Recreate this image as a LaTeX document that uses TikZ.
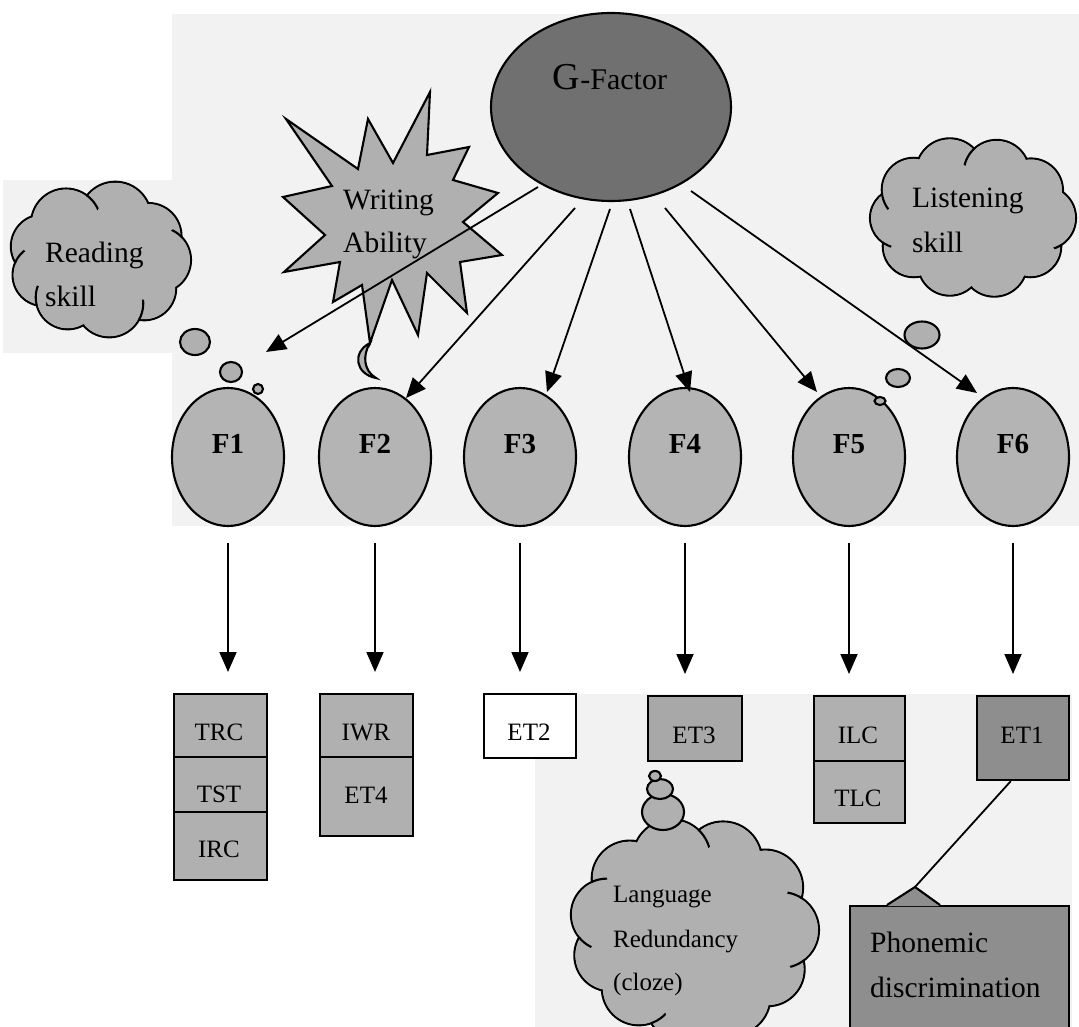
\documentclass[tikz,border=0pt]{standalone}
\usepackage{fontspec}
\setmainfont{Liberation Serif}
\usetikzlibrary{arrows.meta,shapes.geometric,calc}
\definecolor{panel}{HTML}{F2F2F2}
\definecolor{gdark}{HTML}{707070}
\definecolor{fgrey}{HTML}{B4B4B4}
\definecolor{cgrey}{HTML}{B0B0B0}
\definecolor{et3grey}{HTML}{A8A8A8}
\definecolor{darkbox}{HTML}{8E8E8E}

% A cloud built from a ring of overlapping puffs: #1 name, #2 centre,
% #3/#4 ring radii, #5 list of angle/radius pairs.
\newcommand\puffcloud[5]{%
  \coordinate (#1) at #2;
  \foreach \ang/\rr [count=\k] in {#5}{\coordinate (#1-\k) at ($(#1)+(\ang:#3 and #4)$);}
  \foreach \ang/\rr [count=\k] in {#5}{\draw[outl,fill=cgrey] (#1-\k) circle[radius=\rr pt];}
  \foreach \ang/\rr [count=\k] in {#5}{\fill[cgrey] (#1-\k) circle[radius=\rr pt-1.1pt];}
  \fill[cgrey] (#1) ellipse[x radius=#3pt, y radius=#4pt];
}
% A short fold line: puff #4 (radius #5) continued inside puff #2 (radius #3)
% of cloud #1, kept near the notch between them (\creasek scales the notch
% distance from the centre, \creaser is the length of the fold).
\newcommand\creasek{1.5}
\newcommand\creaser{16}
\newcommand\puffcrease[5]{%
  \begin{scope}
    \clip (#1-#2) circle[radius=#3pt];
    \coordinate (#1-m) at ($(#1-#2)!0.5!(#1-#4)$);
    \clip ($(#1)!\creasek!(#1-m)$) circle[radius=\creaser pt];
    \draw[outl] (#1-#4) circle[radius=#5pt];
  \end{scope}
}

\begin{document}
\begin{tikzpicture}[x=1pt,y=-1pt,
  outl/.style={draw=black,line width=2.1pt},
  arr/.style={line width=1.8pt,-{Triangle[length=20pt,width=17pt]}},
  fnode/.style={ellipse,outl,fill=fgrey,minimum width=112pt,minimum height=138pt,inner sep=0pt},
  flab/.style={font=\bfseries\fontsize{29}{31}\selectfont},
  cell/.style={rectangle,outl,fill=cgrey,anchor=north west,inner sep=0pt},
  celltxt/.style={font=\fontsize{25}{27}\selectfont},
  big/.style={font=\fontsize{29.5}{32}\selectfont,anchor=base west,inner sep=0pt},
  mid/.style={font=\fontsize{25}{27}\selectfont,anchor=base west,inner sep=0pt},
  bub/.style={ellipse,outl,fill=cgrey,inner sep=0pt}]

% page and light backdrop panels
\clip (0,0) rectangle (1079,1027);
\fill[white] (0,0) rectangle (1079,1027);
\fill[panel] (172,14) rectangle (1079,526);
\fill[panel] (3,180) rectangle (172,353);
\fill[panel] (535,694) rectangle (1072,1027);

% general factor
\node[ellipse,outl,fill=gdark,minimum width=240pt,minimum height=188pt] (G) at (611,107) {};
\node (Gt) at (610,77) {\fontsize{38}{42}\selectfont G\fontsize{30}{34}\selectfont -Factor};

% reading skill cloud
\renewcommand\creasek{1.55}
\puffcloud{RS}{(99,260)}{59}{44}{0/33,40/32,80/34,122/32,160/31,198/32,236/35,286/36,327/33}
\puffcrease{RS}{8}{36}{7}{35}
\puffcrease{RS}{9}{33}{1}{33}
\puffcrease{RS}{2}{32}{3}{34}
\puffcrease{RS}{5}{31}{4}{32}
\puffcrease{RS}{6}{32}{5}{31}
\node[big] (RSa) at (45,262) {Reading};
\node[big] (RSb) at (45,306) {skill};

% listening skill cloud
\renewcommand\creasek{1.45}
\puffcloud{LS}{(972,218)}{72}{48}{0/32,36/31,72/33,108/32,144/31,180/30,216/32,252/34,290/33,325/32}
\puffcrease{LS}{8}{34}{9}{33}
\puffcrease{LS}{2}{31}{1}{32}
\puffcrease{LS}{5}{31}{6}{30}
\puffcrease{LS}{6}{30}{7}{32}
\node[big] (LSa) at (912,208) {Listening};
\node[big] (LSb) at (912,253) {skill};

% writing ability burst
\draw[outl,fill=cgrey,line join=miter] (286,119) -- (358,169) -- (368,119) -- (393,163) -- (430,92)
  -- (427,155) -- (469,147) -- (453,180) -- (498,193) -- (463,222) -- (502,255) -- (460,262)
  -- (467,313) -- (427,273) -- (418,335) -- (392,280) -- (370,343) -- (362,285) -- (333,302)
  -- (340,262) -- (284,272) -- (325,235) -- (283,197) -- (332,186) -- cycle;
\draw[outl,fill=cgrey] (370,343) .. controls (352,352) and (355,374) .. (376,378)
  .. controls (364,371) and (362,356) .. (370,343) -- cycle;
\node[big] (WAa) at (343,210) {Writing};
\node[big] (WAb) at (343,253) {Ability};

% the six factors
\foreach \i/\x in {1/228,2/375,3/520,4/685,5/849,6/1013}{
  \node[fnode] (F\i) at (\x,457) {};
  \node[flab] (F\i t) at (\x,444) {F\i};
}

% thought bubbles
\node[bub,minimum width=30pt,minimum height=26pt] (rb1) at (195,342) {};
\node[bub,minimum width=22pt,minimum height=20pt] (rb2) at (231,372) {};
\node[bub,minimum width=10pt,minimum height=10pt] (rb3) at (258,389) {};
\node[bub,minimum width=35pt,minimum height=27pt] (lb1) at (922,335) {};
\node[bub,minimum width=24pt,minimum height=18pt] (lb2) at (898,378) {};
\node[bub,minimum width=11pt,minimum height=8pt] (lb3) at (880,401) {};

% loadings of the general factor
\coordinate (s1) at (538,187); \coordinate (e1) at (266,352);
\coordinate (s2) at (575,208); \coordinate (e2) at (406,398);
\coordinate (s3) at (610,209); \coordinate (e3) at (547,392);
\coordinate (s4) at (630,209); \coordinate (e4) at (690,392);
\coordinate (s5) at (665,208); \coordinate (e5) at (817,392);
\coordinate (s6) at (691,191); \coordinate (e6) at (977,393);
\foreach \i in {1,...,6}{\draw[arr] (s\i) -- (e\i);}

% observed tests
\node[cell,minimum width=93pt,minimum height=63pt] (TRC) at (173,693) {};
\node[cell,minimum width=93pt,minimum height=55pt] (TST) at (173,756) {};
\node[cell,minimum width=93pt,minimum height=68pt] (IRC) at (173,811) {};
\node[cell,minimum width=93pt,minimum height=63pt] (IWR) at (319,693) {};
\node[cell,minimum width=93pt,minimum height=79pt] (ET4) at (319,756) {};
\node[cell,fill=white,minimum width=92pt,minimum height=64pt] (ET2) at (483,693) {};
\node[cell,fill=et3grey,minimum width=94pt,minimum height=65pt] (ET3) at (647,695) {};
\node[cell,minimum width=91pt,minimum height=65pt] (ILC) at (813,695) {};
\node[cell,minimum width=91pt,minimum height=62pt] (TLC) at (813,760) {};
\node[cell,fill=darkbox,minimum width=92pt,minimum height=84pt] (ET1) at (976,695) {};

\node[celltxt] (TRCt) at (219,732) {TRC};
\node[celltxt] (TSTt) at (219,794) {TST};
\node[celltxt] (IRCt) at (219,849) {IRC};
\node[celltxt] (IWRt) at (366,732) {IWR};
\node[celltxt] (ET4t) at (366,795) {ET4};
\node[celltxt] (ET2t) at (529,732) {ET2};
\node[celltxt] (ET3t) at (694,735) {ET3};
\node[celltxt] (ILCt) at (858,735) {ILC};
\node[celltxt] (TLCt) at (858,798) {TLC};
\node[celltxt] (ET1t) at (1022,735) {ET1};

\foreach \i/\b in {1/TRC,2/IWR,3/ET2,4/ET3,5/ILC,6/ET1}{
  \draw[arr] ($(F\i.south)+(0,16)$) -- ($(F\i.south |- \b.north)+(0,-21)$);
}

% language redundancy cloud
\renewcommand\creasek{1.38}
\renewcommand\creaser{18}
\puffcloud{LR}{(693,930)}{88}{74}{0/38,32/37,64/39,96/38,128/37,160/36,192/36,224/38,256/39,290/39,325/38}
\puffcrease{LR}{10}{39}{9}{39}
\puffcrease{LR}{2}{37}{1}{38}
\puffcrease{LR}{11}{38}{1}{38}
\puffcrease{LR}{6}{36}{7}{36}
\puffcrease{LR}{8}{38}{7}{36}
\puffcrease{LR}{4}{38}{5}{37}
\node[bub,minimum width=42pt,minimum height=36pt] (cb1) at (663,812) {};
\node[bub,minimum width=26pt,minimum height=20pt] (cb2) at (660,789) {};
\node[bub,minimum width=12pt,minimum height=10pt] (cb3) at (655,776) {};
\node[mid] (LRa) at (613,902) {Language};
\node[mid] (LRb) at (613,947) {Redundancy};
\node[mid] (LRc) at (613,990) {(cloze)};

% phonemic discrimination callout
\node[rectangle,outl,fill=darkbox,anchor=north west,minimum width=219pt,minimum height=140pt] (PD) at (849,905) {};
\coordinate (ptip) at (915,887);
\fill[darkbox] (887,906) -- (ptip) -- (940,906) -- cycle;
\draw[outl,line join=miter] (887,905) -- (ptip) -- (940,905);
\draw[line width=1.8pt] (ptip) -- ($(ET1.south west)!0.37!(ET1.south east)$);
\node[big] (PDa) at (870,952) {Phonemic};
\node[big] (PDb) at (870,997) {discrimination};
\end{tikzpicture}
\end{document}
